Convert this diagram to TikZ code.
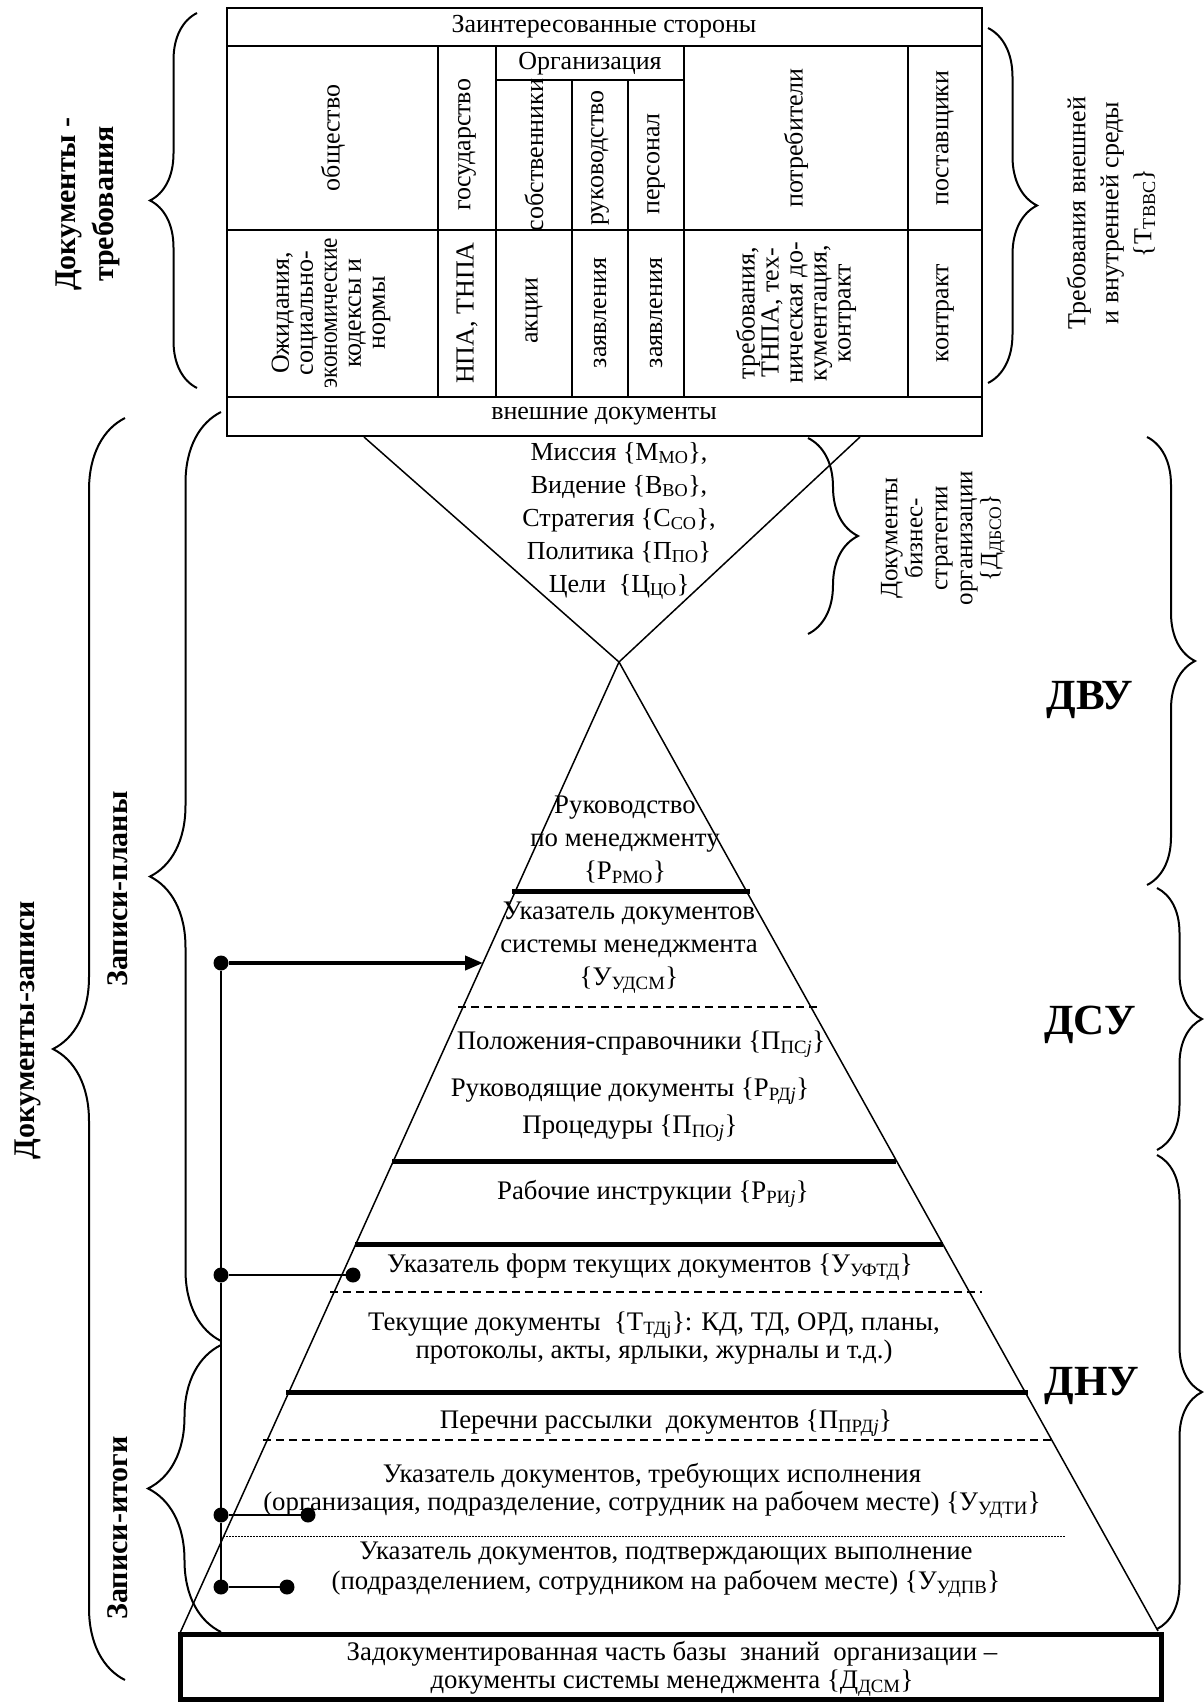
\documentclass[tikz,border=0pt]{standalone}
\usepackage{fontspec}
\setmainfont{Liberation Serif}
\usetikzlibrary{decorations.pathreplacing,arrows.meta}
\newcommand{\sbs}[1]{\textsubscript{#1}}
\begin{document}
\begin{tikzpicture}[x=1pt,y=-1pt,
  every node/.style={inner sep=0pt, outer sep=0pt},
  tx/.style={font=\fontsize{26}{33}\selectfont, align=center},
  px/.style={font=\fontsize{26.8}{33}\selectfont, align=center},
  tb/.style={font=\fontsize{26}{24}\selectfont, align=center},
  vt/.style={rotate=90},
  bl/.style={font=\fontsize{30}{38}\selectfont\bfseries, align=center, rotate=90},
  big/.style={font=\fontsize{43}{45}\selectfont\bfseries},
  tln/.style={line width=1.5pt},
  thk/.style={line width=5pt},
  dashln/.style={line width=1.5pt, dash pattern=on 8pt off 5pt},
  dotln/.style={line width=1pt, dash pattern=on 1.5pt off 1.5pt},
  brc/.style={decorate, decoration={brace, amplitude=#1}, line width=2pt},
  dot/.style={circle, fill=black, minimum size=15pt},
  conn/.style={line width=2.5pt},
  vconn/.style={line width=2pt},
]
\useasboundingbox (0,0) rectangle (1203,1702);

% ---------- table ----------
\draw[tln] (227,8) rectangle (982,436);
\draw[tln] (227,46) -- (982,46);
\draw[tln] (227,230) -- (982,230);
\draw[tln] (227,397) -- (982,397);
\draw[tln] (496,80) -- (684,80);
\foreach \x in {438,496,684,908} \draw[tln] (\x,46) -- (\x,397);
\foreach \x in {572,628} \draw[tln] (\x,80) -- (\x,397);

\node[tx] (hdr) at (604,27) {Заинтересованные стороны};
\node[tx] (org) at (590,64) {Организация};
\node[tx,vt] (c1) at (333,138) {общество};
\node[tx,vt] (c2) at (467,145) {государство};
\node[tx,vt] (c3) at (534,155) {собственники};
\node[tx,vt] (c4) at (600,158) {руководство};
\node[tx,vt] (c5) at (656,164) {персонал};
\node[tx,vt] (c6) at (796,138) {потребители};
\node[tx,vt] (c7) at (945,138) {поставщики};

\node[tb,vt] (d1) at (331,313) {Ожидания,\\социально-\\\scalebox{0.9}[1]{экономические}\\кодексы и\\нормы};
\node[tx,vt] (d2) at (467,313) {НПА, ТНПА};
\node[tx,vt] (d3) at (534,311) {акции};
\node[tx,vt] (d4) at (600,313) {заявления};
\node[tx,vt] (d5) at (656,313) {заявления};
\node[tb,vt] (d6) at (796,313) {требования,\\ТНПА, тех-\\ническая до-\\кументация,\\контракт};
\node[tx,vt] (d7) at (945,313) {контракт};

\node[tx] (ext) at (604,416) {внешние документы};

% ---------- funnel and pyramid ----------
\draw[tln] (364,437) -- (619,662) -- (860,437);
\draw[tln] (619,662) -- (180,1633);
\draw[tln] (619,662) -- (1158,1631);

\node[tx] (fun) at (619,521) {Миссия \{М\sbs{МО}\},\\Видение \{В\sbs{ВО}\},\\Стратегия \{С\sbs{СО}\},\\Политика \{П\sbs{ПО}\}\\Цели \ \{Ц\sbs{ЦО}\}};

\draw[brc=50] (808,438) -- (808,634);
\node[font=\fontsize{25}{25}\selectfont, align=center, rotate=90] (dbs) at (943,538) {Документы\\бизнес-\\стратегии\\организации\\\{Д\sbs{ДБСО}\}};

% level lines
\draw[thk] (512,891) -- (750,891);
\draw[dashln] (458,1007) -- (817,1007);
\draw[thk] (392,1161) -- (896,1161);
\draw[thk] (355,1244) -- (943,1244);
\draw[dashln] (330,1292) -- (982,1292);
\draw[thk] (286,1392) -- (1028,1392);
\draw[dashln] (263,1440) -- (1052,1440);
\draw[dotln] (223,1536) -- (1065,1536);

% pyramid texts
\node[px] (rmo) at (625,840) {Руководство\\по менеджменту\\\{Р\sbs{РМО}\}};
\node[px] (udsm) at (629,948) {Указатель документов\\системы менеджмента\\\{У\sbs{УДСМ}\}};
\node[px] (psj) at (641,1044) {Положения-справочники \{П\sbs{ПС\textit{j}}\}};
\node[px] (rdj) at (630,1091) {Руководящие документы \{Р\sbs{РД\textit{j}}\}};
\node[px] (poj) at (630,1128) {Процедуры \{П\sbs{ПО\textit{j}}\}};
\node[px] (rij) at (653,1194) {Рабочие инструкции \{Р\sbs{РИ\textit{j}}\}};
\node[px] (uftd) at (650,1267) {Указатель форм текущих документов \{У\sbs{УФТД}\}};
\node[px, font=\fontsize{26.8}{28}\selectfont] (tdj) at (654,1338) {Текущие документы \ \{Т\sbs{ТДj}\}: КД, ТД, ОРД, планы,\\протоколы, акты, ярлыки, журналы и т.д.)};
\node[px] (prdj) at (666,1423) {Перечни рассылки \ документов \{П\sbs{ПРД\textit{j}}\}};
\node[px, font=\fontsize{26.8}{28}\selectfont] (udti) at (652,1491) {Указатель документов, требующих исполнения\\(организация, подразделение, сотрудник на рабочем месте) \{У\sbs{УДТИ}\}};
\node[px, font=\fontsize{26.8}{30}\selectfont] (udpv) at (666,1570) {Указатель документов, подтверждающих выполнение\\(подразделением, сотрудником на рабочем месте) \{У\sbs{УДПВ}\}};

% bottom box
\draw[line width=5pt] (180,1634) rectangle (1161,1699);
\node[px, font=\fontsize{26.8}{28}\selectfont] (dsm) at (672,1669) {Задокументированная часть базы \ знаний \ организации –\\документы системы менеджмента \{Д\sbs{ДСМ}\}};

% ---------- connectors ----------
\node[dot] (p0) at (221,963) {};
\coordinate (a0) at (483,963);
\draw[line width=4pt, -{Triangle[length=18pt,width=14pt]}] (p0) -- (a0);
\node[dot] (p1) at (221,1275) {};
\node[dot] (q1) at (353,1275) {};
\node[dot] (p2) at (221,1515) {};
\node[dot] (q2) at (308,1515) {};
\node[dot] (p3) at (221,1587) {};
\node[dot] (q3) at (287,1587) {};
\draw[conn] (p1) -- (q1);
\draw[conn] (p2) -- (q2);
\draw[conn] (p3) -- (q3);
\draw[vconn] (p0) -- (p1);
\draw[vconn] (p1) -- (p2);
\draw[vconn] (p2) -- (p3);

% ---------- braces ----------
\draw[brc=47] (197,388) -- (197,13);
\node[bl] (dtreb) at (88,204) {Документы -\\требования};
\draw[brc=49] (988,28) -- (988,383);
\node[tx,vt] (treb) at (1111,213) {Требования внешней\\и внутренней среды\\\{Т\sbs{ТВВС}\}};

\draw[brc=72] (125,1680) -- (125,418);
\node[bl] (dzap) at (28,1030) {Документы-записи};
\draw[brc=71] (221,1341) -- (221,412);
\node[bl] (zpl) at (118,889) {Записи-планы};
\draw[brc=73] (221,1632) -- (221,1345);
\node[bl] (zit) at (118,1528) {Записи-итоги};

\draw[brc=48] (1147,437) -- (1147,885);
\node[big] (dvu) at (1090,700) {ДВУ};
\draw[brc=45] (1157,888) -- (1157,1150);
\node[big] (dsu) at (1090,1025) {ДСУ};
\draw[brc=45] (1157,1155) -- (1157,1629);
\node[big] (dnu) at (1092,1386) {ДНУ};
\end{tikzpicture}
\end{document}
